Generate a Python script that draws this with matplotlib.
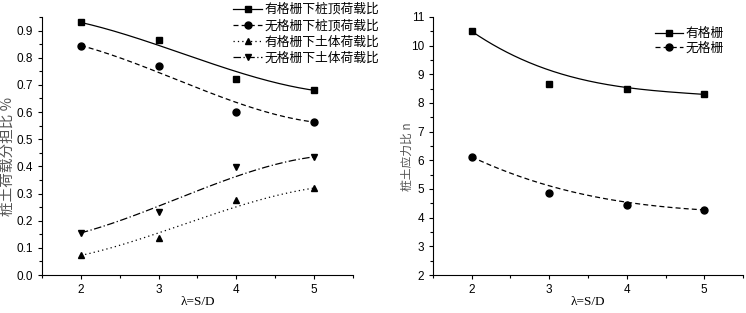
import matplotlib.pyplot as plt
import numpy as np
from math import comb

plt.rcParams['font.family'] = ['Noto Sans CJK SC', 'DejaVu Sans']

lam = [2, 3, 4, 5]

# left panel: load share ratio
pile_grid = [0.93, 0.865, 0.722, 0.68]
pile_nogrid = [0.845, 0.768, 0.60, 0.563]
soil_grid = [0.072, 0.135, 0.278, 0.32]
soil_nogrid = [0.155, 0.232, 0.398, 0.435]
left_labels = ['有格栅下桩顶荷载比', '无格栅下桩顶荷载比',
               '有格栅下土体荷载比', '无格栅下土体荷载比']

# right panel: pile-soil stress ratio n
n_grid = [10.5, 8.65, 8.48, 8.3]
n_nogrid = [6.12, 4.85, 4.43, 4.27]
right_labels = ['有格栅', '无格栅']


def bspline(xs, ys, num=200):
    # Bezier curve using the data points as control points
    t = np.linspace(0, 1, num)
    n = len(xs) - 1
    bx = sum(comb(n, i) * t**i * (1 - t)**(n - i) * xs[i] for i in range(n + 1))
    by = sum(comb(n, i) * t**i * (1 - t)**(n - i) * ys[i] for i in range(n + 1))
    return bx, by


def style_axes(ax):
    for s in ['top', 'right']:
        ax.spines[s].set_visible(False)
    ax.set_xlim(1.5, 5.5)
    ax.set_xticks(lam)
    ax.set_xticks([1.5, 2.5, 3.5, 4.5, 5.5], minor=True)
    ax.tick_params(which='major', direction='out', length=3, width=0.8,
                   labelsize=8.5, pad=3.5)
    ax.tick_params(which='minor', direction='out', length=2, width=0.8)
    for lb in ax.get_xticklabels() + ax.get_yticklabels():
        lb.set_family('Liberation Sans')
    ax.set_xlabel('λ=S/D', family='Liberation Serif', fontsize=9.5, labelpad=0)


fig = plt.figure(figsize=(7.46, 3.13), dpi=100)
ax1 = fig.add_axes([0.0563, 0.1214, 0.4167, 0.8243])
ax2 = fig.add_axes([0.5804, 0.1214, 0.4156, 0.8243])

left_series = [pile_grid, pile_nogrid, soil_grid, soil_nogrid]
left_ls = ['-', (0, (4, 2.5)), (0, (1, 2.5)), (0, (6, 2, 1, 2))]
left_mk = ['s', 'o', '^', 'v']
handles = []
for ys, ls, mk, lab in zip(left_series, left_ls, left_mk, left_labels):
    cx, cy = bspline(lam, ys)
    ax1.plot(cx, cy, color='black', lw=0.9, ls=ls)
    ax1.plot(lam, ys, ls='none', marker=mk, color='black', ms=5)
    h, = ax1.plot([], [], color='black', lw=0.9, ls=ls, marker=mk, ms=5,
                  label=lab)
    handles.append(h)
ax1.set_ylim(0, 0.95)
ax1.set_yticks(np.arange(0, 0.91, 0.1))
ax1.set_yticks(np.arange(0.05, 0.96, 0.1), minor=True)
ax1.yaxis.set_major_formatter(plt.FormatStrFormatter('%.1f'))
style_axes(ax1)
ax1.set_ylabel('桩土荷载分担比 %', fontsize=10.5, color='#555555')
ax1.yaxis.set_label_coords(-0.087, 0.46)
fig.legend(handles=handles, loc='upper left',
           bbox_to_anchor=(233 / 746, 1 - 3 / 313),
           frameon=False, fontsize=9.2, handlelength=2.3, handletextpad=0.2,
           labelspacing=0.26, borderaxespad=0, borderpad=0)

right_series = [n_grid, n_nogrid]
right_ls = ['-', (0, (4, 2.5))]
right_mk = ['s', 'o']
handles = []
for ys, ls, mk, lab in zip(right_series, right_ls, right_mk, right_labels):
    cx, cy = bspline(lam, ys)
    ax2.plot(cx, cy, color='black', lw=0.9, ls=ls)
    ax2.plot(lam, ys, ls='none', marker=mk, color='black', ms=5)
    h, = ax2.plot([], [], color='black', lw=0.9, ls=ls, marker=mk, ms=5,
                  label=lab)
    handles.append(h)
ax2.set_ylim(2, 11)
ax2.set_yticks(range(2, 12))
ax2.set_yticks(np.arange(2.5, 11, 1), minor=True)
style_axes(ax2)
ax2.set_ylabel('桩土应力比 n', fontsize=8.5, color='#555555')
ax2.yaxis.set_label_coords(-0.061, 0.46)
fig.legend(handles=handles, loc='upper left',
           bbox_to_anchor=(655 / 746, 1 - 27 / 313),
           frameon=False, fontsize=9.2, handlelength=2.2, handletextpad=0.2,
           labelspacing=0.12, borderaxespad=0, borderpad=0)

fig.savefig('out.png', dpi=100)
